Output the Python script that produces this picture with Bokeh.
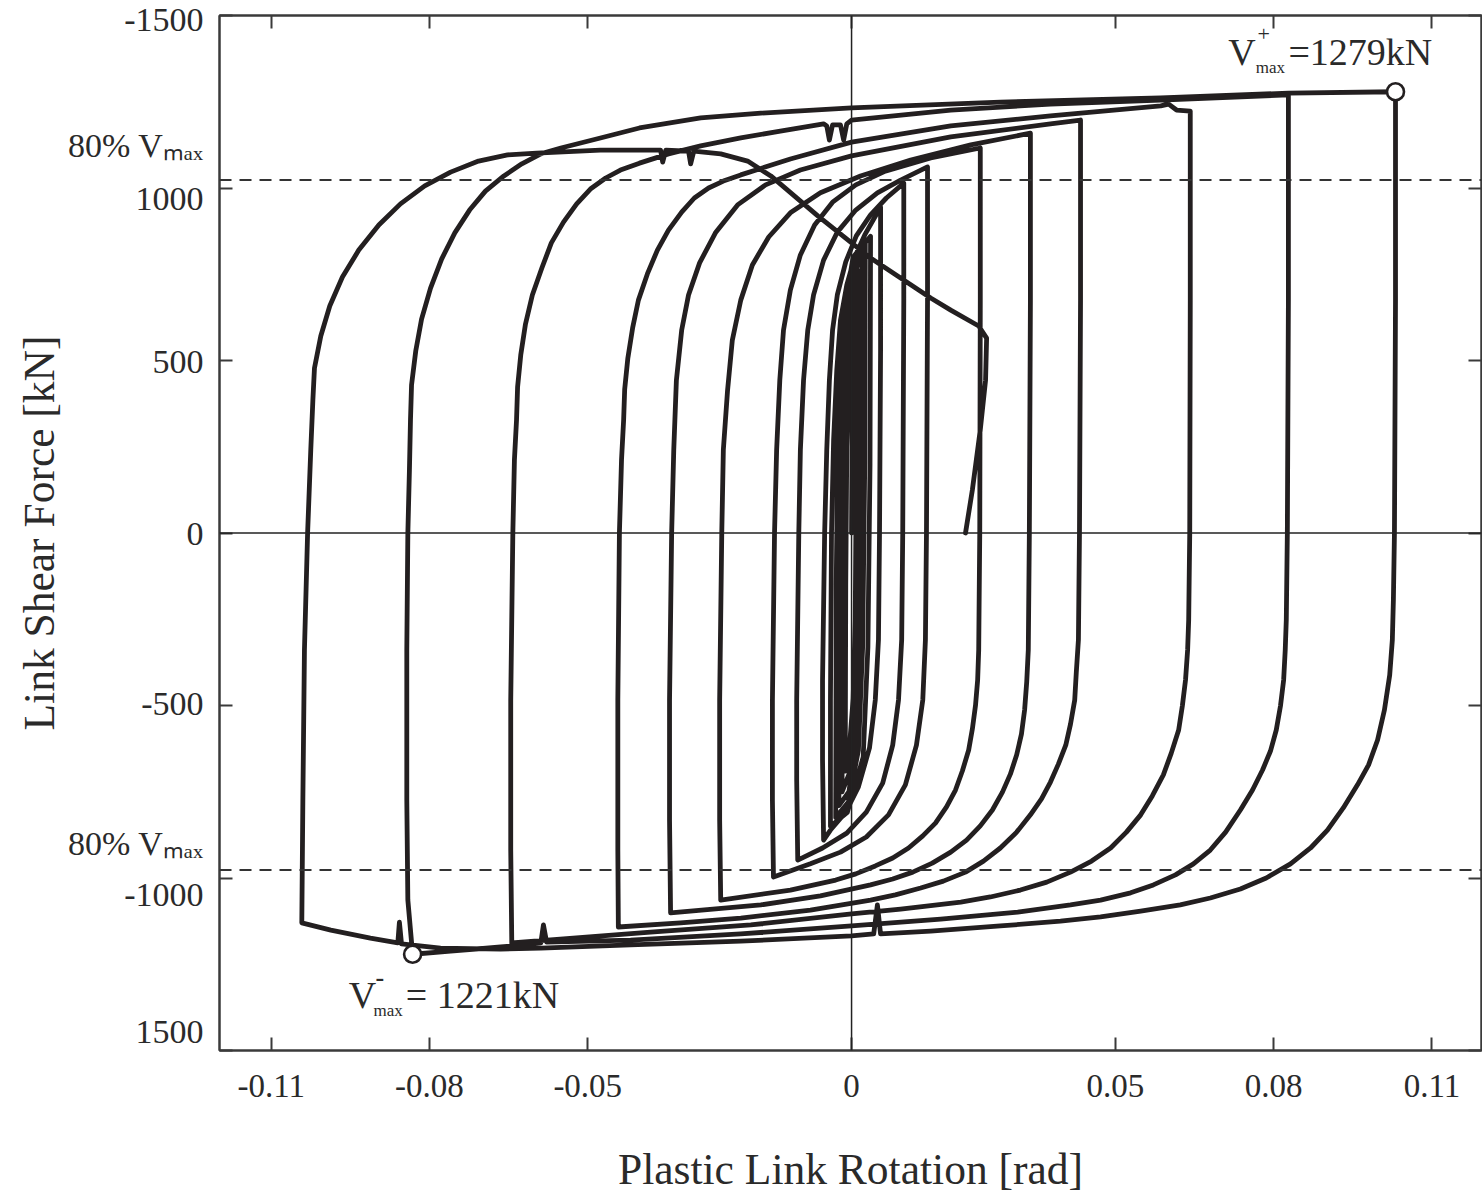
from bokeh.plotting import figure
from bokeh.models import Range1d, FixedTicker, LinearAxis, Span, Label
from bokeh.embed import file_html
from bokeh.resources import INLINE

# ---------------- data ----------------
# plastic link rotation [rad] / link shear force [kN], in loading order
s1_rot = [0.0000, 0.0001, 0.0003, 0.0006, 0.0010, 0.0009, 0.0007, 0.0003, -0.0004, -0.0012]
s1_kN = [0, 300, 520, 640, 700, 200, -250, -480, -620, -690]
s2_rot = [-0.0012, -0.0011, -0.0009, -0.0004, 0.0004, 0.0015, 0.0014, 0.0011, 0.0005, -0.0005, -0.0018]
s2_kN = [-690, -150, 250, 500, 680, 760, 200, -300, -560, -700, -750]
s3_rot = [-0.0018, -0.0017, -0.0014, -0.0008, 0.0003, 0.0020, 0.0019, 0.0016, 0.0009, -0.0005, -0.0024]
s3_kN = [-750, -150, 280, 560, 740, 810, 200, -320, -600, -750, -790]
s4_rot = [-0.0024, -0.0023, -0.0020, -0.0013, 0.0002, 0.0026, 0.0025, 0.0021, 0.0013, -0.0006, -0.0030]
s4_kN = [-790, -150, 300, 590, 770, 840, 200, -330, -630, -780, -825]
s5_rot = [-0.0030, -0.0029, -0.0026, -0.0018, 0.0003, 0.0036, 0.0035, 0.0031, 0.0022, -0.0008, -0.0040]
s5_kN = [-825, -150, 300, 610, 800, 860, 200, -330, -650, -810, -850]

c1_rot = [-0.0040, -0.0040, -0.0038, -0.0034, -0.0028, -0.0021, -0.0009, 0.0006, 0.0025, 0.0055,
          0.0055, 0.0053, 0.0051, 0.0045, 0.0034, 0.0013, -0.0011, -0.0040, -0.0053]
c1_kN = [-850, -484, 0, 270, 472, 617, 719, 800, 864, 945,
         530, 0, -310, -484, -623, -736, -809, -861, -890]

c2_rot = [-0.0053, -0.0055, -0.0055, -0.0051, -0.0047, -0.0042, -0.0036, -0.0027, -0.0011, 0.0009, 0.0036, 0.0066, 0.0099,
          0.0099, 0.0097, 0.0095, 0.0089, 0.0078, 0.0059, 0.0028, -0.0009, -0.0055, -0.0102]
c2_kN = [-890, -658, -426, 0, 241, 443, 588, 690, 786, 861, 922, 971, 1014,
         675, 0, -310, -484, -615, -725, -809, -870, -913, -948]

c3_rot = [-0.0102, -0.0104, -0.0104, -0.0100, -0.0097, -0.0091, -0.0083, -0.0072, -0.0053, -0.0027, 0.0008, 0.0049, 0.0093, 0.0144,
          0.0144, 0.0142, 0.0140, 0.0135, 0.0123, 0.0102, 0.0070, 0.0028, -0.0021, -0.0078, -0.0148]
c3_kN = [-948, -716, -484, 0, 241, 443, 588, 690, 791, 872, 936, 986, 1023, 1061,
         675, 0, -310, -484, -615, -730, -817, -881, -925, -959, -997]

c4_rot = [-0.0148, -0.0150, -0.0150, -0.0146, -0.0142, -0.0136, -0.0129, -0.0116, -0.0097, -0.0070, -0.0036, 0.0008, 0.0064, 0.0150, 0.0244,
          0.0244, 0.0243, 0.0241, 0.0239, 0.0235, 0.0229, 0.0222, 0.0210, 0.0197, 0.0180, 0.0159, 0.0135, 0.0108, 0.0078, 0.0045, 0.0008,
          -0.0030, -0.0116, -0.0248]
c4_kN = [-997, -774, -484, 0, 241, 443, 588, 704, 806, 893, 959, 1009, 1049, 1087, 1116,
         675, 0, -339, -426, -499, -568, -629, -690, -745, -794, -841, -878, -913, -942, -965, -988,
         -1006, -1035, -1064]

c5_rot = [-0.0248, -0.0250, -0.0250, -0.0246, -0.0243, -0.0235, -0.0226, -0.0210, -0.0188, -0.0157, -0.0116, -0.0059, 0.0017, 0.0112, 0.0226, 0.0339,
          0.0339, 0.0337, 0.0335, 0.0332, 0.0328, 0.0322, 0.0313, 0.0301, 0.0286, 0.0267, 0.0244, 0.0218, 0.0188, 0.0153, 0.0116, 0.0078,
          0.0036, -0.0059, -0.0172, -0.0343]
c5_kN = [-1064, -832, -484, 0, 241, 414, 559, 675, 777, 858, 928, 986, 1035, 1081, 1125, 1159,
         675, 0, -339, -432, -513, -583, -643, -699, -751, -803, -849, -890, -925, -957, -983, -1003,
         -1020, -1052, -1078, -1101]

c6_rot = [-0.0343, -0.0345, -0.0345, -0.0341, -0.0337, -0.0332, -0.0322, -0.0309, -0.0288, -0.0258, -0.0216, -0.0163, -0.0097, 0.0000, 0.0188, 0.0377, 0.0434,
          0.0434, 0.0432, 0.0430, 0.0426, 0.0423, 0.0415, 0.0406, 0.0392, 0.0377, 0.0360, 0.0339, 0.0313, 0.0282, 0.0250, 0.0216, 0.0174,
          0.0131, 0.0083, 0.0036, -0.0078, -0.0210, -0.0324, -0.0442]
c6_kN = [-1101, -832, -484, 0, 241, 443, 588, 690, 783, 870, 951, 1009, 1052, 1093, 1148, 1186, 1197,
         675, 0, -310, -403, -484, -554, -615, -670, -722, -771, -817, -867, -913, -951, -983, -1009,
         -1029, -1049, -1064, -1093, -1116, -1130, -1142]

c7_rot = [-0.0442, -0.0443, -0.0443, -0.0440, -0.0436, -0.0432, -0.0430, -0.0424, -0.0415, -0.0404, -0.0387, -0.0368, -0.0347, -0.0322,
          -0.0298, -0.0271, -0.0243, -0.0210, -0.0116, 0.0000, 0.0188, 0.0377, 0.0586, 0.0601, 0.0616, 0.0642,
          0.0642, 0.0641, 0.0639, 0.0637, 0.0633, 0.0627, 0.0620, 0.0606, 0.0591, 0.0570, 0.0548, 0.0521, 0.0491, 0.0455, 0.0415,
          0.0370, 0.0320, 0.0263, 0.0207, 0.0093, 0.0000, -0.0191, -0.0381, -0.0644]
c7_kN = [-1142, -919, -484, 0, 212, 328, 417, 507, 594, 675, 751, 820, 878, 930,
         971, 1000, 1020, 1038, 1084, 1133, 1180, 1209, 1238, 1243, 1226, 1223,
         675, 0, -252, -339, -426, -501, -571, -638, -701, -762, -817, -867, -913, -951, -983,
         -1012, -1035, -1055, -1070, -1090, -1104, -1136, -1157, -1188]

c8_rot = [-0.0644, -0.0646, -0.0646, -0.0642, -0.0639, -0.0635, -0.0633, -0.0627, -0.0618, -0.0605, -0.0587, -0.0569, -0.0546, -0.0521,
          -0.0495, -0.0466, -0.0438, -0.0402, -0.0347, -0.0286, -0.0210, -0.0135,
          -0.0053, -0.0047, -0.0042, -0.0036, -0.0021, -0.0015, -0.0009, 0.0000, 0.0188, 0.0377, 0.0586, 0.0828,
          0.0828, 0.0826, 0.0824, 0.0822, 0.0819, 0.0813, 0.0805, 0.0794, 0.0779, 0.0760, 0.0737, 0.0709, 0.0680, 0.0648, 0.0614,
          0.0572, 0.0529, 0.0472, 0.0415, 0.0315, 0.0169, 0.0000, -0.0210, -0.0419,
          -0.0578, -0.0584, -0.0589, -0.0665, -0.0760, -0.0832]
c8_kN = [-1188, -919, -484, 0, 212, 328, 423, 516, 606, 690, 768, 841, 901, 954,
         997, 1029, 1052, 1072, 1099, 1122, 1145, 1165,
         1186, 1180, 1139, 1183, 1183, 1139, 1186, 1197, 1226, 1243, 1255, 1270,
         675, 0, -252, -339, -426, -501, -571, -632, -687, -745, -803, -867, -919, -959, -991,
         -1020, -1043, -1064, -1078, -1099, -1119, -1139, -1162, -1180,
         -1186, -1136, -1188, -1200, -1212, -1221]

c9_rot = [-0.0832, -0.0841, -0.0843, -0.0843, -0.0841, -0.0838, -0.0836, -0.0834, -0.0826, -0.0815, -0.0798, -0.0777, -0.0752, -0.0724,
          -0.0694, -0.0659, -0.0625, -0.0589, -0.0551, -0.0476, -0.0402, -0.0286, -0.0172, 0.0000, 0.0282, 0.0586, 0.0828, 0.1031,
          0.1031, 0.1029, 0.1027, 0.1025, 0.1020, 0.1010, 0.0997, 0.0980, 0.0959, 0.0932, 0.0902, 0.0870, 0.0832, 0.0786, 0.0737,
          0.0680, 0.0623, 0.0548, 0.0472, 0.0396, 0.0282, 0.0150,
          0.0055, 0.0049, 0.0042, 0.0000, -0.0210, -0.0419, -0.0589, -0.0665, -0.0779, -0.0853, -0.0857, -0.0860, -0.0912, -0.0987, -0.1042]
c9_kN = [-1221, -1064, -774, -339, 0, 183, 328, 429, 528, 620, 710, 794, 870, 936,
         991, 1035, 1070, 1099, 1116, 1145, 1174, 1203, 1217, 1232, 1249, 1261, 1275, 1279,
         675, 0, -194, -310, -412, -513, -600, -672, -730, -797, -861, -913, -959, -1000, -1032,
         -1058, -1078, -1096, -1113, -1125, -1139, -1154,
         -1162, -1078, -1162, -1168, -1183, -1194, -1203, -1206, -1203, -1191, -1128, -1188, -1174, -1151, -1130]

c10_rot = [-0.1042, -0.1040, -0.1037, -0.1031, -0.1025, -0.1021, -0.1018, -0.1006, -0.0989, -0.0965, -0.0934, -0.0896, -0.0855,
           -0.0809, -0.0760, -0.0707, -0.0652, -0.0597, -0.0476,
           -0.0362, -0.0358, -0.0352, -0.0309, -0.0305, -0.0299, -0.0248, -0.0197, -0.0153, -0.0064, 0.0036, 0.0150, 0.0188,
           0.0241, 0.0256, 0.0254, 0.0244, 0.0229, 0.0216]
c10_kN = [-1130, -774, -339, 0, 241, 386, 478, 571, 658, 742, 820, 893, 954,
          1006, 1046, 1078, 1096, 1101, 1110,
          1110, 1075, 1110, 1107, 1070, 1107, 1099, 1078, 1035, 919, 797, 681, 646,
          600, 565, 443, 299, 125, 0]

peak_rot = [0.1031, -0.0832]
peak_kN = [1279, -1221]
v_max_pos = 1279
v_max_neg = 1221

x_ticks = [-0.11, -0.08, -0.05, 0, 0.05, 0.08, 0.11]
x_tick_labels = ["-0.11", "-0.08", "-0.05", "0", "0.05", "0.08", "0.11"]
y_ticks = [-1500, -1000, -500, 0, 500, 1000, 1500]
# the reference's left-hand texts (as printed) and where they sit
y_text = ["-1500", "80% V\u2098\u2090\u2093", "1000", "500", "0", "-500", "80% V\u2098\u2090\u2093", "-1000", "1500"]
y_text_at = [1487, 1122, 971, 496, 0, -493, -901, -1049, -1446]

# ---------------- figure ----------------
SERIF = "Liberation Serif"
INK = "#231f20"
AXC = "#3a3a3a"
TXT = "#2a2a2a"

p = figure(width=1482, height=1199,
           x_range=Range1d(-0.1198, 0.1194), y_range=Range1d(-1500, 1500),
           output_backend="svg", toolbar_location=None,
           min_border_left=219, min_border_right=1, min_border_top=15, min_border_bottom=149,
           background_fill_color="white", border_fill_color="white",
           outline_line_color=AXC, outline_line_width=2)
p.grid.visible = False


def tick_style(ax):
    ax.major_tick_in = 13
    ax.major_tick_out = 0
    ax.minor_tick_in = 0
    ax.minor_tick_out = 0
    ax.axis_line_width = 2
    ax.axis_line_color = AXC
    ax.major_tick_line_width = 2
    ax.major_tick_line_color = AXC


xa = p.xaxis[0]
xa.ticker = FixedTicker(ticks=x_ticks)
xa.major_label_overrides = dict(zip(x_ticks, x_tick_labels))
tick_style(xa)
xa.major_label_text_font = SERIF
xa.major_label_text_font_size = "33px"
xa.major_label_text_color = TXT
xa.major_label_standoff = 24
xa.axis_label = "Plastic Link Rotation [rad]"
xa.axis_label_text_font = SERIF
xa.axis_label_text_font_size = "43.5px"
xa.axis_label_text_font_style = "normal"
xa.axis_label_text_color = TXT
xa.axis_label_standoff = 45

ya = p.yaxis[0]
ya.ticker = FixedTicker(ticks=y_ticks)
ya.major_label_overrides = {t: "" for t in y_ticks}
ya.major_label_standoff = 0
tick_style(ya)

# texts of the left side (tick values as printed + 80% Vmax marks)
yl = LinearAxis(ticker=FixedTicker(ticks=y_text_at),
                major_label_overrides=dict(zip(y_text_at, y_text)),
                axis_line_color=None, major_tick_line_color=None, minor_tick_line_color=None,
                major_tick_in=0, major_tick_out=0, minor_tick_in=0, minor_tick_out=0,
                major_label_standoff=16, major_label_text_font=SERIF,
                major_label_text_font_size="34px", major_label_text_color=TXT,
                axis_label="Link Shear Force [kN]", axis_label_text_font=SERIF,
                axis_label_text_font_size="43.5px", axis_label_text_font_style="normal",
                axis_label_text_color=TXT, axis_label_standoff=2)
p.add_layout(yl, "left")

for ticks, side in ((x_ticks, "above"), (y_ticks, "right")):
    ax = LinearAxis(ticker=FixedTicker(ticks=ticks),
                    major_label_overrides={t: "" for t in ticks},
                    major_label_standoff=0, major_label_text_font_size="0px")
    tick_style(ax)
    p.add_layout(ax, side)

# center cross lines and 80% Vmax lines
p.add_layout(Span(location=0, dimension="height", line_color="#222222", line_width=1.5))
p.add_layout(Span(location=0, dimension="width", line_color="#222222", line_width=1.5))
p.add_layout(Span(location=0.8 * v_max_pos, dimension="width", line_color="#333333",
                  line_width=1.8, line_dash="12 8"))
p.add_layout(Span(location=-0.8 * v_max_neg, dimension="width", line_color="#333333",
                  line_width=1.8, line_dash="12 8"))

# hysteresis path
cycles = [(s1_rot, s1_kN), (s2_rot, s2_kN), (s3_rot, s3_kN), (s4_rot, s4_kN), (s5_rot, s5_kN),
          (c1_rot, c1_kN), (c2_rot, c2_kN), (c3_rot, c3_kN), (c4_rot, c4_kN), (c5_rot, c5_kN),
          (c6_rot, c6_kN), (c7_rot, c7_kN), (c8_rot, c8_kN), (c9_rot, c9_kN), (c10_rot, c10_kN)]
rot, kN = [], []
for r, f in cycles:
    assert len(r) == len(f)
    rot += r
    kN += f
p.line(rot, kN, line_color=INK, line_width=4.8, line_join="round", line_cap="round")

p.scatter(peak_rot, peak_kN, marker="circle", size=17, fill_color="white",
          line_color=INK, line_width=2.6)


# peak annotations (inside the frame)
def lab(x, y, text, size, align="left", style="normal"):
    p.add_layout(Label(x=x, y=y, text=text, text_font=SERIF, text_font_size=size,
                       text_align=align, text_baseline="middle", text_color=TXT,
                       text_font_style=style))


lab(0.0714, 1394, "V", "38px")
lab(0.0781, 1446, "+", "22px", "center")
lab(0.0766, 1348, "max", "17px")
lab(0.0828, 1394, "=1279kN", "38px")

lab(-0.0953, -1339, "V", "38px")
lab(-0.0894, -1287, "-", "26px", "center", "bold")
lab(-0.0906, -1383, "max", "17px")
lab(-0.0845, -1339, "= 1221kN", "38px")

open("out.html", "w").write(file_html(p, INLINE))
